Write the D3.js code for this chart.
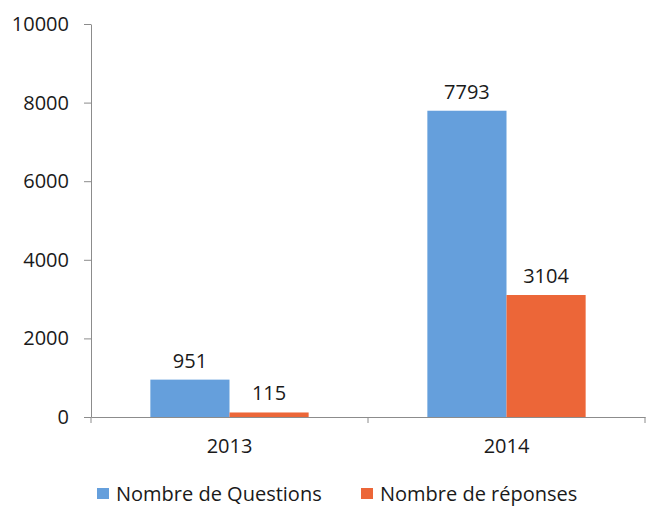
<!DOCTYPE html>
<html>
<head>
<meta charset="utf-8">
<script src="https://cdn.jsdelivr.net/npm/d3@7"></script>
<style>
  body { margin: 0; background: #fff; }
  text { font-family: "Open Sans", sans-serif; fill: #1a1a1a; }
  .axis path, .axis line { stroke: #8c8c8c; }
</style>
</head>
<body>
<svg id="chart"></svg>
<script>
const width = 651;
const height = 519;

// Data
const years = ['2013', '2014'];
const seriesNames = ['Nombre de Questions', 'Nombre de réponses'];
const questions = [951, 7793];
const reponses = [115, 3104];
const yTicks = [0, 2000, 4000, 6000, 8000, 10000];
const colors = ['#659fdc', '#ec6638'];

const margin = { top: 24, right: 6, bottom: 102, left: 91 };

const svg = d3.select('#chart')
    .attr('width', width)
    .attr('height', height);

const x = d3.scaleBand()
    .domain(years)
    .range([margin.left, width - margin.right]);

const inner = d3.scaleBand()
    .domain(seriesNames)
    .range([0, x.bandwidth()])
    .paddingInner(0)
    .paddingOuter(0.75);

const y = d3.scaleLinear()
    .domain([0, 10000])
    .range([height - margin.bottom, margin.top]);

// Y axis
const yAxis = svg.append('g')
    .attr('class', 'axis')
    .attr('transform', `translate(${margin.left},0)`)
    .call(d3.axisLeft(y).tickValues(yTicks).tickSize(7).tickSizeOuter(0).tickFormat(d3.format('d')));
yAxis.selectAll('text')
    .attr('x', -22)
    .style('font-size', '20px');

// X axis
const xAxis = svg.append('g')
    .attr('class', 'axis')
    .attr('transform', `translate(0,${y(0)})`)
    .call(d3.axisBottom(x).tickSize(0).tickSizeOuter(0));
xAxis.selectAll('text')
    .attr('dy', '1.65em')
    .style('font-size', '20px');
// category boundary ticks
const bounds = [x.range()[0], ...years.map(d => x(d) + x.bandwidth())];
xAxis.selectAll('.bound')
    .data(bounds)
    .enter()
    .append('line')
    .attr('class', 'bound')
    .attr('x1', d => d)
    .attr('x2', d => d)
    .attr('y1', 0)
    .attr('y2', 6)
    .attr('stroke', '#8c8c8c');

// Bars
const rows = years.map((yr, i) => ({ year: yr, values: [questions[i], reponses[i]] }));

const groups = svg.append('g')
    .selectAll('g')
    .data(rows)
    .enter()
    .append('g')
    .attr('transform', d => `translate(${x(d.year)},0)`);

groups.selectAll('rect')
    .data(d => d.values.map((v, j) => ({ name: seriesNames[j], value: v, idx: j })))
    .enter()
    .append('rect')
    .attr('x', d => inner(d.name))
    .attr('width', inner.bandwidth())
    .attr('y', d => y(d.value))
    .attr('height', d => y(0) - y(d.value))
    .attr('fill', d => colors[d.idx]);

groups.selectAll('.val')
    .data(d => d.values.map((v, j) => ({ name: seriesNames[j], value: v })))
    .enter()
    .append('text')
    .attr('class', 'val')
    .attr('x', d => inner(d.name) + inner.bandwidth() / 2)
    .attr('y', d => y(d.value) - 12)
    .attr('text-anchor', 'middle')
    .style('font-size', '20px')
    .text(d => d.value);

// Legend
const legendX = [97, 361];
const legend = svg.append('g')
    .selectAll('g')
    .data(seriesNames)
    .enter()
    .append('g')
    .attr('transform', (d, i) => `translate(${legendX[i]},488)`);
legend.append('rect')
    .attr('width', 12)
    .attr('height', 11)
    .attr('fill', (d, i) => colors[i]);
legend.append('text')
    .attr('x', 19)
    .attr('y', 13)
    .style('font-size', '20px')
    .text(d => d);
</script>
</body>
</html>
